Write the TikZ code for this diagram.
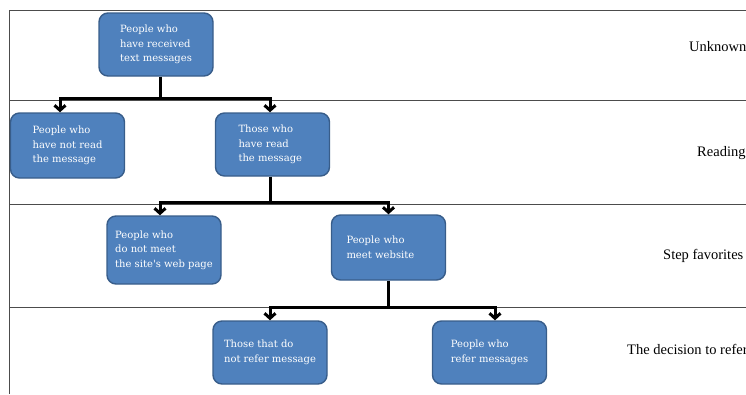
\documentclass[tikz,border=0pt]{standalone}
\usepackage{fontspec}
\setmainfont{Liberation Serif}
\newfontfamily\boxfont{DejaVu Serif}
\usetikzlibrary{arrows.meta}
\definecolor{boxfill}{HTML}{4F81BD}
\definecolor{boxline}{HTML}{385D8A}

\begin{document}
\begin{tikzpicture}[x=1pt,y=-1pt,
  box/.style={draw=boxline,fill=boxfill,line width=1.4pt,rounded corners=9pt,
    minimum width=114pt,minimum height=63pt,inner sep=0pt,align=left,
    text=white,font=\boxfont\fontsize{10}{14.5}\selectfont},
  lane/.style={draw=black!70,line width=1pt},
  trunk/.style={line width=3pt},
  branch/.style={line width=3pt,-{Straight Barb[length=5pt,width=11pt]}},
  stage/.style={anchor=base west,inner sep=0pt,font=\fontsize{14.5}{17}\selectfont}]

\useasboundingbox (0,0) rectangle (746,394);
\clip (0,0) rectangle (746,394);

% lanes
\draw[lane] (746,10) -- (9,10) -- (9,394);
\foreach \y in {100,204,307}
  \draw[lane] (9,\y) -- (746,\y);

\node[box] (rcv) at (156,44.5) {People who\\have received\\text messages};
\node[box,minimum height=65pt] (notread) at (67.5,145.5) {People who\\have not read\\the message};
\node[box,text width=68pt] (read) at (272.5,144.5) {Those who\\have read\\the message};
\node[box,minimum height=68pt] (nomeet) at (164,250) {People who\\do not meet\\the site's web page};
\node[box,text width=84pt,minimum height=65pt] (meet) at (388.5,247.5) {People who\\meet website};
\node[box] (norefer) at (270,352.5) {Those that do\\not refer message};
\node[box] (refer) at (489.5,352.5) {People who\\refer messages};

\node[stage] (unknown) at (689,51) {Unknown};
\node[stage] (reading) at (697,156) {Reading};
\node[stage] (favor) at (663,259) {Step favorites};
\node[stage] (decide) at (627,354) {The decision to refer};

% forks
\coordinate (j1) at (160,98);
\coordinate (j2) at (270,202);
\coordinate (j3) at (388,307);

\draw[trunk] (rcv.south -| j1) -- (j1);
\draw[branch] (j1) -| ([xshift=-7.5pt]notread.north);
\draw[branch] (j1) -| ([xshift=-2.5pt]read.north);

\draw[trunk] (read.south -| j2) -- (j2);
\draw[branch] (j2) -| ([xshift=-4pt]nomeet.north);
\draw[branch] (j2) -| (meet.north);

\draw[trunk] (meet.south -| j3) -- (j3);
\draw[branch] (j3) -| (norefer.north);
\draw[branch] (j3) -| ([xshift=5.5pt]refer.north);

\end{tikzpicture}
\end{document}
